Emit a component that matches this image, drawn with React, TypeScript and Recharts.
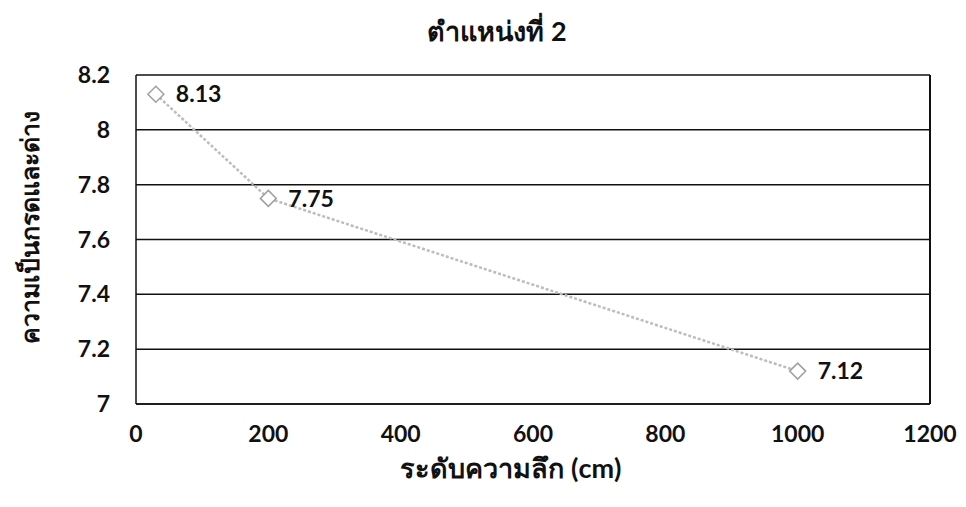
import React from 'react'
import { LineChart, Line, XAxis, YAxis, CartesianGrid, ReferenceLine, LabelList } from 'recharts'

const depths = [30, 200, 1000]
const phValues = [8.13, 7.75, 7.12]
const xTicks = [0, 200, 400, 600, 800, 1000, 1200]
const yTicks = [7, 7.2, 7.4, 7.6, 7.8, 8, 8.2]

const title = 'ตำแหน่งที่ 2'
const xTitle = 'ระดับความลึก (cm)'
const yTitle = 'ความเป็นกรดและด่าง'

const data = depths.map((d, i) => ({ depth: d, ph: phValues[i] }))

const font = "Lato, 'Open Sans', 'Noto Sans', sans-serif"

// hollow diamond marker
const Diamond = (props: any) => {
  const { cx, cy } = props
  if (cx == null || cy == null) return null
  const r = 8
  return (
    <polygon
      points={`${cx},${cy - r} ${cx + r},${cy} ${cx},${cy + r} ${cx - r},${cy}`}
      fill="#fff"
      stroke="#a0a0a0"
      strokeWidth={1.5}
    />
  )
}

const tickStyle = { fill: '#111', fontSize: 23, fontWeight: 700, fontFamily: font }

export default function App() {
  return (
    <div style={{ position: 'absolute', left: 0, top: 0, width: 966, height: 507, background: '#fff', fontFamily: font }}>
      <div
        style={{
          position: 'absolute',
          top: 10,
          left: 297,
          width: 400,
          textAlign: 'center',
          fontSize: 27,
          fontWeight: 700,
          color: '#111',
        }}
      >
        {title}
      </div>
      <div
        style={{
          position: 'absolute',
          left: 30,
          top: 227,
          transform: 'translate(-50%, -50%) rotate(-90deg)',
          whiteSpace: 'nowrap',
          fontSize: 25,
          fontWeight: 700,
          color: '#111',
        }}
      >
        {yTitle}
      </div>
      <div
        style={{
          position: 'absolute',
          top: 447,
          left: 311,
          width: 400,
          textAlign: 'center',
          fontSize: 27,
          fontWeight: 700,
          color: '#111',
        }}
      >
        {xTitle}
      </div>
      <LineChart width={966} height={507} data={data} margin={{ top: 75, right: 36, bottom: 63, left: 40 }}>
        <CartesianGrid vertical={false} stroke="#111" strokeWidth={1.5} />
        <XAxis
          dataKey="depth"
          type="number"
          domain={[0, 1200]}
          ticks={xTicks}
          interval={0}
          tickLine={false}
          tickSize={0}
          tickMargin={22}
          axisLine={{ stroke: '#111', strokeWidth: 1.5 }}
          tick={tickStyle}
          height={40}
        />
        <YAxis
          type="number"
          domain={[7, 8.2]}
          ticks={yTicks}
          interval={0}
          width={96}
          tickLine={false}
          tickSize={0}
          tickMargin={26}
          axisLine={{ stroke: '#111', strokeWidth: 1.5 }}
          tick={tickStyle}
        />
        <ReferenceLine x={1200} stroke="#111" strokeWidth={2} />
        <Line
          dataKey="ph"
          type="linear"
          stroke="#bdbdbd"
          strokeWidth={2.5}
          strokeDasharray="3 2"
          dot={<Diamond />}
          activeDot={false}
          isAnimationActive={false}
        >
          <LabelList dataKey="ph" position="right" offset={20} style={tickStyle} />
        </Line>
      </LineChart>
    </div>
  )
}
